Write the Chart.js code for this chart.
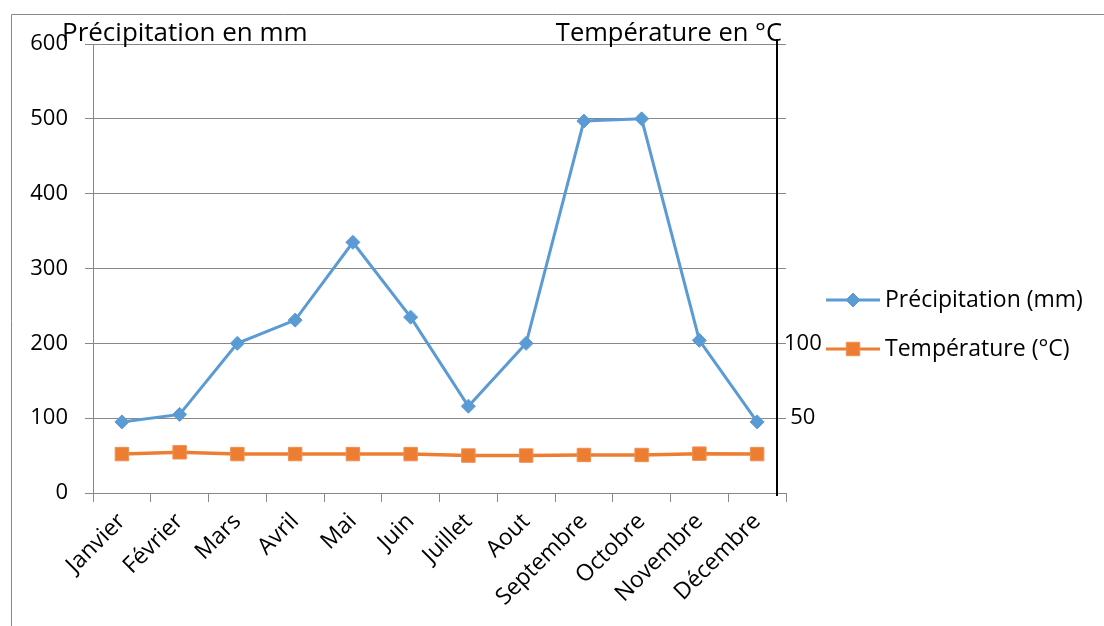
<!DOCTYPE html>
<html>
<head>
<meta charset="utf-8">
<script src="https://cdn.jsdelivr.net/npm/chart.js@4.4.1/dist/chart.umd.min.js"></script>
<style>
  body { margin: 0; background: #fff; }
  #wrap { position: relative; width: 1104px; height: 626px; }
</style>
</head>
<body>
<div id="wrap"><canvas id="climChart" width="1104" height="626"></canvas></div>
<script>
// donnees du graphique
const mois = ["Janvier", "Février", "Mars", "Avril", "Mai", "Juin", "Juillet", "Aout", "Septembre", "Octobre", "Novembre", "Décembre"];
const precipitation = [95, 105, 200, 231, 335, 235, 116, 200, 497, 500, 204, 95];
const temperature = [26, 27.2, 26, 26, 26, 26, 25, 25, 25.4, 25.4, 26.3, 26];
const ticksGauche = [0, 100, 200, 300, 400, 500, 600];
const ticksDroite = [50, 100];

const bleu = "#5B9BD5";
const orange = "#ED7D31";
const gris = "#888888";
const police = "'Open Sans', sans-serif";

Chart.defaults.font.family = police;
Chart.defaults.color = "#000";

// cadre, titres des axes, ligne de l'axe droit et legende
const decor = {
  id: "decor",
  beforeDraw(chart) {
    const ctx = chart.ctx;
    ctx.save();
    ctx.strokeStyle = gris;
    ctx.lineWidth = 1;
    ctx.beginPath();
    ctx.moveTo(11.5, 626);
    ctx.lineTo(11.5, 14.5);
    ctx.lineTo(1104, 14.5);
    ctx.stroke();
    ctx.restore();
  },
  afterDraw(chart) {
    const ctx = chart.ctx;
    const area = chart.chartArea;
    ctx.save();
    // axe secondaire
    ctx.strokeStyle = "#000";
    ctx.lineWidth = 2;
    ctx.beginPath();
    ctx.moveTo(area.right - 9, 39);
    ctx.lineTo(area.right - 9, 496);
    ctx.stroke();

    ctx.fillStyle = "#000";
    ctx.font = "26px " + police;
    ctx.textBaseline = "alphabetic";
    ctx.textAlign = "left";
    ctx.fillText("Précipitation en mm", 62, 41);
    ctx.font = "25.5px " + police;
    ctx.textAlign = "right";
    ctx.fillText("Température en °C", 782, 41);

    // legende
    const items = [
      { ds: chart.data.datasets[0], y: 300 },
      { ds: chart.data.datasets[1], y: 349 }
    ];
    ctx.font = "23px " + police;
    ctx.textAlign = "left";
    ctx.textBaseline = "middle";
    items.forEach(it => {
      ctx.strokeStyle = it.ds.borderColor;
      ctx.lineWidth = 3;
      ctx.beginPath();
      ctx.moveTo(826, it.y);
      ctx.lineTo(880, it.y);
      ctx.stroke();
      ctx.fillStyle = it.ds.pointBackgroundColor;
      ctx.strokeStyle = it.ds.pointBorderColor;
      ctx.lineWidth = 1;
      Chart.helpers.drawPoint(ctx, {
        pointStyle: it.ds.pointStyle,
        radius: it.ds.pointRadius,
        borderWidth: 1
      }, 853, it.y);
      ctx.fillStyle = "#000";
      ctx.fillText(it.ds.label, 885, it.y);
    });
    ctx.restore();
  }
};

new Chart("climChart", {
  type: "line",
  data: {
    labels: mois,
    datasets: [{
      label: "Précipitation (mm)",
      data: precipitation,
      yAxisID: "y",
      borderColor: bleu,
      backgroundColor: bleu,
      borderWidth: 3,
      pointStyle: "rectRot",
      pointRadius: 7,
      pointBorderWidth: 1,
      pointBackgroundColor: bleu,
      pointBorderColor: bleu,
      tension: 0
    }, {
      label: "Température (°C)",
      data: temperature,
      yAxisID: "y2",
      borderColor: orange,
      backgroundColor: orange,
      borderWidth: 3.5,
      pointStyle: "rect",
      pointRadius: 9.5,
      pointBorderWidth: 1,
      pointBackgroundColor: orange,
      pointBorderColor: "#F08F52",
      tension: 0
    }]
  },
  options: {
    responsive: false,
    animation: false,
    layout: { padding: { top: 44, left: 0, right: 268, bottom: 0 } },
    plugins: {
      legend: { display: false },
      tooltip: { enabled: false }
    },
    scales: {
      x: {
        offset: true,
        grid: { offset: true, drawOnChartArea: false, color: gris, tickLength: 9 },
        border: { color: gris },
        ticks: { font: { size: 23 }, minRotation: 45, maxRotation: 45, padding: 6 },
        afterFit(scale) { scale.height = 133; }
      },
      y: {
        position: "left",
        min: 0,
        max: 600,
        afterBuildTicks(scale) { scale.ticks = ticksGauche.map(v => ({ value: v })); },
        grid: { color: gris, tickLength: 8 },
        border: { color: gris },
        ticks: { font: { size: 22 }, padding: 17 },
        afterFit(scale) { scale.width = 93; }
      },
      y2: {
        position: "right",
        min: 0,
        max: 300,
        afterBuildTicks(scale) { scale.ticks = ticksDroite.map(v => ({ value: v })); },
        grid: { display: false, drawOnChartArea: false },
        border: { display: false },
        ticks: { font: { size: 22 }, padding: -10, crossAlign: "center" },
        afterFit(scale) { scale.width = 50; }
      }
    }
  },
  plugins: [decor]
});
</script>
</body>
</html>
